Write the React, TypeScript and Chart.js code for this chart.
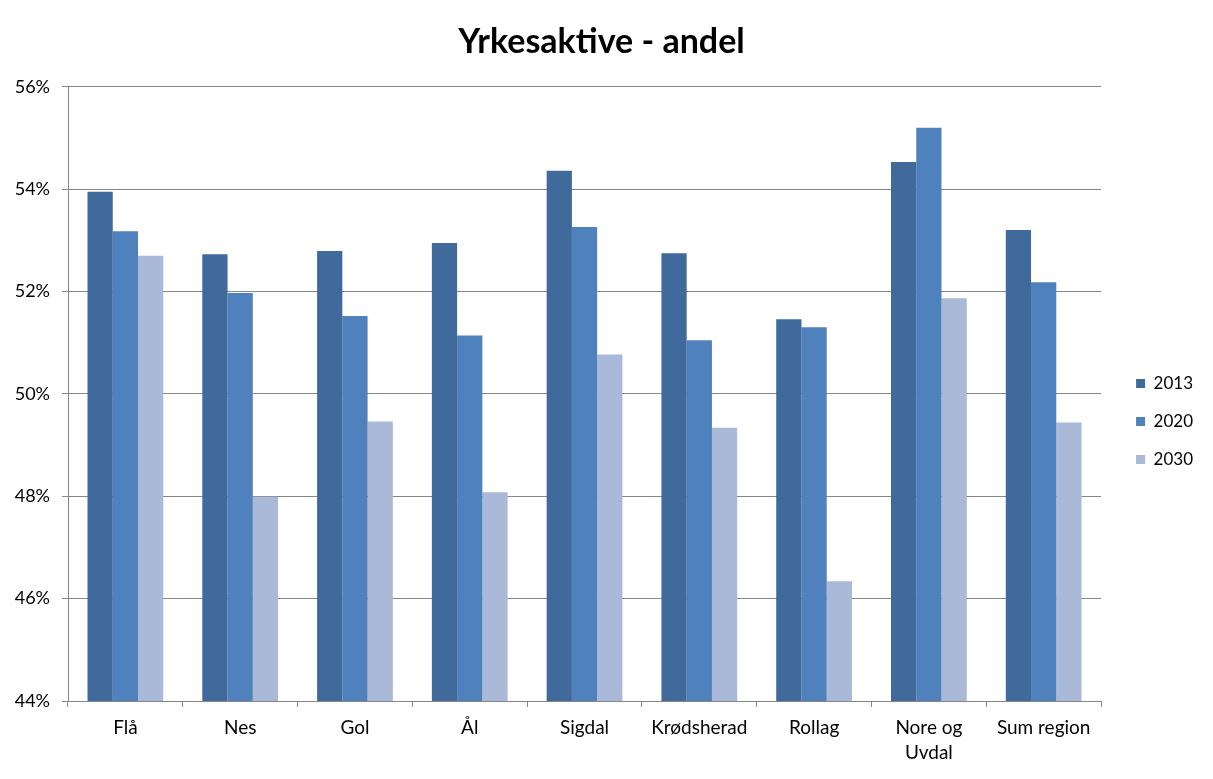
import React, { useEffect, useRef } from "react";
import { Chart, registerables } from "chart.js";

Chart.register(...registerables);

const categories: (string | string[])[] = [
  "Flå",
  "Nes",
  "Gol",
  "Ål",
  "Sigdal",
  "Krødsherad",
  "Rollag",
  ["Nore og", "Uvdal"],
  "Sum region",
];
const seriesNames = ["2013", "2020", "2030"];
const values2013 = [53.95, 52.73, 52.79, 52.95, 54.36, 52.75, 51.46, 54.53, 53.2];
const values2020 = [53.18, 51.97, 51.52, 51.14, 53.26, 51.05, 51.3, 55.2, 52.18];
const values2030 = [52.7, 47.99, 49.46, 48.08, 50.77, 49.34, 46.34, 51.87, 49.44];
const seriesColors = ["#3F6A9B", "#4F81BD", "#AAB9D7"];
const yMin = 44;
const yMax = 56;
const yStep = 2;
const titleText = "Yrkesaktive - andel";

const FONT = "Lato, 'Liberation Sans', sans-serif";

export default function App() {
  const ref = useRef<HTMLCanvasElement | null>(null);
  useEffect(() => {
    if (!ref.current) return;
    const chart = new Chart(ref.current, {
      type: "bar",
      data: {
        labels: categories,
        datasets: [values2013, values2020, values2030].map((v, i) => ({
          label: seriesNames[i],
          data: v,
          backgroundColor: seriesColors[i],
          borderWidth: 0,
          categoryPercentage: 0.66,
          barPercentage: 1,
        })),
      },
      options: {
        animation: false,
        responsive: false,
        maintainAspectRatio: false,
        layout: { padding: { left: 0, right: 10, top: 0, bottom: 0 } },
        plugins: {
          title: {
            display: true,
            text: titleText,
            color: "#000",
            font: { family: FONT, size: 34, weight: "bold", lineHeight: 1.2 },
            padding: { top: 22, bottom: 24 },
          },
          legend: {
            position: "right",
            title: {
              display: true,
              text: " ",
              font: { family: FONT, size: 10, lineHeight: 1 },
              padding: { top: 27, bottom: 27 },
            },
            labels: {
              boxWidth: 9,
              boxHeight: 9,
              padding: 21,
              color: "#000",
              font: { family: FONT, size: 17 },
            },
          },
          tooltip: { enabled: false },
        },
        scales: {
          x: {
            grid: {
              display: true,
              drawOnChartArea: false,
              drawTicks: true,
              tickLength: 6,
              color: "#868686",
            },
            border: { display: true, color: "#868686" },
            ticks: {
              color: "#000",
              padding: 8,
              maxRotation: 0,
              autoSkip: false,
              font: { family: FONT, size: 19, lineHeight: 1.32 },
            },
            afterFit: (s: any) => {
              s.height = 78;
            },
          },
          y: {
            min: yMin,
            max: yMax,
            grid: {
              color: "#868686",
              tickLength: 6,
            },
            border: { display: true, color: "#868686" },
            ticks: {
              stepSize: yStep,
              color: "#000",
              padding: 12,
              font: { family: FONT, size: 18 },
              callback: (v: any) => v + "%",
            },
            afterFit: (s: any) => {
              s.width = 68;
            },
          },
          yRight: {
            position: "right",
            display: true,
            grid: { display: false, drawTicks: false },
            border: { display: false },
            ticks: { display: false },
            afterFit: (s: any) => {
              s.width = 14;
            },
          },
        },
      },
    } as any);
    return () => chart.destroy();
  }, []);
  return (
    <div style={{ position: "fixed", left: 0, top: 0, width: 1213, height: 779, background: "#fff" }}>
      <canvas ref={ref} width={1213} height={779} style={{ width: 1213, height: 779 }} />
    </div>
  );
}
